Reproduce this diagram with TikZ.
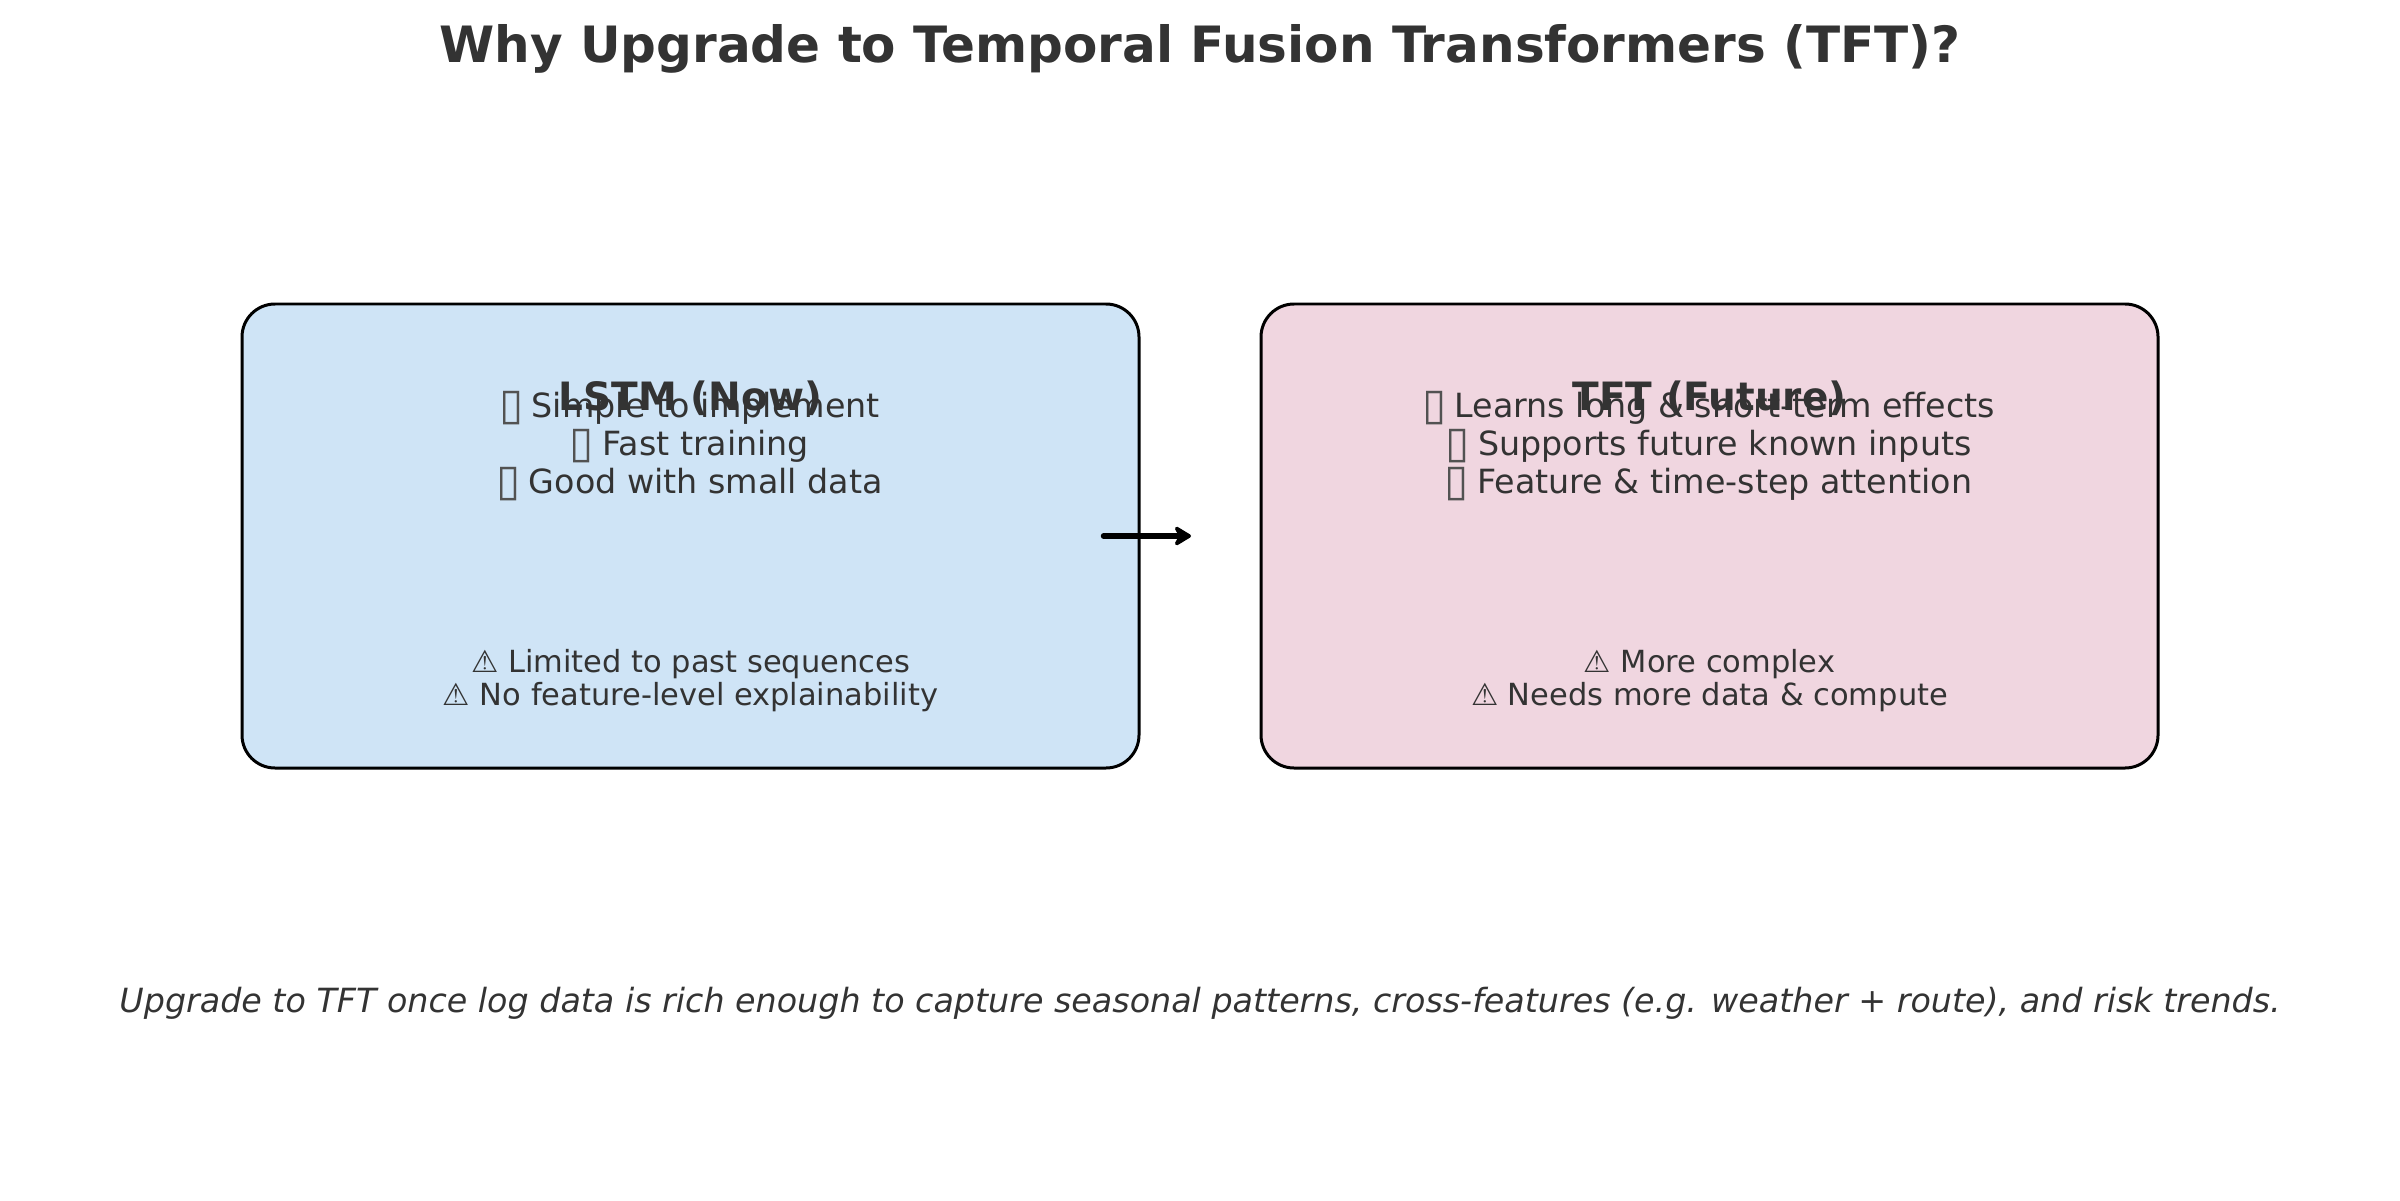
\documentclass[tikz,border=0pt]{standalone}
\usepackage{fontspec}
\setmainfont{DejaVu Sans}
\usetikzlibrary{positioning}
\usetikzlibrary{arrows.meta}
\definecolor{inktext}{HTML}{333333}
\definecolor{nowfill}{HTML}{CFE4F6}
\definecolor{futurefill}{HTML}{F0D6E0}
\newcommand{\tofu}{\rule[-0.25em]{0pt}{1.05em}\makebox[0.6em]{\smash{\raisebox{-0.1ex}{\fontsize{12.5}{10.8}\selectfont\color{inktext!85}▯}}}}
\begin{document}
\begin{tikzpicture}[
    panel/.style={rectangle,rounded corners=0.33cm,draw=black,line width=0.03cm,minimum width=8.97cm,minimum height=4.64cm,inner sep=0pt},
    heading/.style={text=inktext,inner sep=0pt,font=\fontsize{11.1}{13}\selectfont\bfseries},
    pros/.style={text=inktext,inner sep=0pt,align=center,font=\fontsize{9.48}{10.9}\selectfont},
    cons/.style={text=inktext,inner sep=0pt,align=center,font=\fontsize{8.67}{9.6}\selectfont}]

  \useasboundingbox (0,0) rectangle (24,12);

  % Titel
  \node[text=inktext,inner sep=0pt,font=\fontsize{14.24}{17}\selectfont\bfseries] (title) at (12,11.51) {Why Upgrade to Temporal Fusion Transformers (TFT)?};

  % Boxen
  \node[panel,fill=nowfill] (lstm) at (6.905,6.64) {};
  \node[panel,fill=futurefill] (tft) [right=10.19cm of lstm.center,anchor=center] {};

  % LSTM
  \node[heading] (lstmhead) [above=1.38cm of lstm.center,anchor=center] {LSTM (Now)};
  \node[pros] (lstmpros) [above=0.895cm of lstm.center,anchor=center] {\tofu{} Simple to implement\\\tofu{} Fast training\\\tofu{} Good with small data};
  \node[cons] (lstmcons) [below=1.445cm of lstm.center,anchor=center] {⚠ Limited to past sequences\\⚠ No feature-level explainability};

  % TFT
  \node[heading] (tfthead) [above=1.38cm of tft.center,anchor=center] {TFT (Future)};
  \node[pros] (tftpros) [above=0.895cm of tft.center,anchor=center] {\tofu{} Learns long \& short-term effects\\\tofu{} Supports future known inputs\\\tofu{} Feature \& time-step attention};
  \node[cons] (tftcons) [below=1.445cm of tft.center,anchor=center] {⚠ More complex\\⚠ Needs more data \& compute};

  % Fazit
  \node[text=inktext,inner sep=0pt,font=\fontsize{9.48}{12}\selectfont\itshape] (summary) [below=9.54cm of title.center,anchor=center] {Upgrade to TFT once log data is rich enough to capture seasonal patterns, cross-features (e.g. weather + route), and risk trends.};

  % Pfeil
  \coordinate (arrowfrom) at (11.035,6.64);
  \coordinate (arrowto) at (11.91,6.64);
  \path[-{Stealth[length=2mm,width=2.4mm,inset=0.6mm,round]},line width=0.055cm,line cap=round,line join=round]
    (arrowfrom) edge (arrowto);

\end{tikzpicture}
\end{document}
